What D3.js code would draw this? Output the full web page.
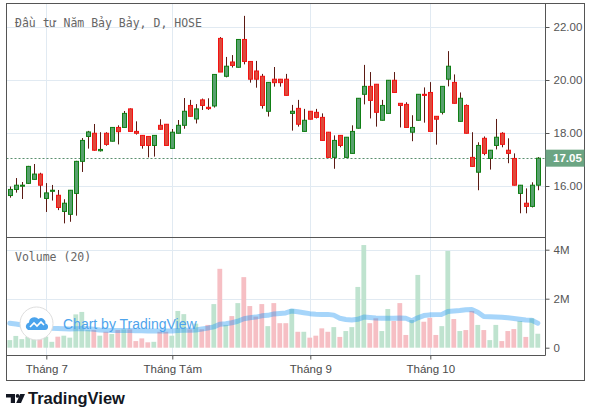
<!DOCTYPE html>
<html><head><meta charset="utf-8">
<script src="https://cdn.jsdelivr.net/npm/d3@7"></script>
<style>html,body{margin:0;padding:0;background:#fff;}svg{display:block;}</style>
</head><body>
<svg id="chart" width="590" height="415"></svg>
<script>
// ---- data ----
const dates = ["2022-06-23","2022-06-24","2022-06-27","2022-06-28","2022-06-29","2022-06-30",
"2022-07-01","2022-07-04","2022-07-05","2022-07-06","2022-07-07","2022-07-08","2022-07-11","2022-07-12","2022-07-13","2022-07-14","2022-07-15","2022-07-18","2022-07-19","2022-07-20","2022-07-21","2022-07-22","2022-07-25","2022-07-26","2022-07-27","2022-07-28","2022-07-29",
"2022-08-01","2022-08-02","2022-08-03","2022-08-04","2022-08-05","2022-08-08","2022-08-09","2022-08-10","2022-08-11","2022-08-12","2022-08-15","2022-08-16","2022-08-17","2022-08-18","2022-08-19","2022-08-22","2022-08-23","2022-08-24","2022-08-25","2022-08-26","2022-08-29","2022-08-30","2022-08-31",
"2022-09-05","2022-09-06","2022-09-07","2022-09-08","2022-09-09","2022-09-12","2022-09-13","2022-09-14","2022-09-15","2022-09-16","2022-09-19","2022-09-20","2022-09-21","2022-09-22","2022-09-23","2022-09-26","2022-09-27","2022-09-28","2022-09-29","2022-09-30",
"2022-10-03","2022-10-04","2022-10-05","2022-10-06","2022-10-07","2022-10-10","2022-10-11","2022-10-12","2022-10-13","2022-10-14","2022-10-17","2022-10-18","2022-10-19","2022-10-20","2022-10-21","2022-10-24","2022-10-25","2022-10-26","2022-10-27"];

const open  = [15.64,15.87,16.01,16.10,16.25,16.45,15.53,15.80,15.65,15.04,14.93,15.72,16.93,17.87,17.99,17.33,17.99,17.69,18.21,18.21,18.91,18.06,17.91,17.87,17.53,18.29,18.33,17.42,17.99,18.29,19.04,18.53,19.25,18.97,19.02,21.57,20.14,20.68,20.48,21.53,20.70,20.34,20.14,18.82,20.03,20.03,20.03,18.74,18.93,18.06,18.82,18.78,18.59,18.03,17.08,17.91,17.08,17.23,18.18,19.46,19.76,19.84,18.48,18.74,19.99,19.12,19.08,18.03,18.48,19.46,19.53,18.63,18.78,20.03,19.91,18.44,19.04,17.08,16.52,17.80,17.04,17.53,17.99,17.35,17.04,15.72,15.35,15.23,16.03];
const high  = [15.98,16.30,16.15,16.76,16.83,16.50,16.11,16.04,15.85,15.50,15.85,16.95,17.81,18.08,18.34,18.03,18.03,18.22,18.29,18.83,18.93,18.44,17.92,17.88,17.92,18.52,18.34,18.15,18.49,19.32,19.25,19.09,19.30,19.31,20.22,21.62,20.87,20.94,21.54,22.42,20.71,20.72,20.23,19.92,20.49,20.04,20.23,19.06,19.25,18.91,18.83,18.91,18.74,18.04,17.91,17.92,17.85,18.29,19.32,20.57,20.30,19.85,19.25,20.00,20.30,19.13,19.16,18.67,19.47,19.72,19.92,18.64,19.77,21.09,20.21,19.53,19.08,18.03,17.65,17.87,17.36,18.53,18.03,17.80,17.23,16.04,15.91,16.14,17.09];
const low   = [15.56,15.75,15.51,16.08,16.24,15.56,15.02,15.45,15.09,14.59,14.65,14.88,16.53,17.41,17.33,17.30,17.52,17.68,17.57,18.20,18.05,17.94,17.41,17.08,17.11,18.13,17.52,17.41,17.98,18.16,18.62,18.36,18.87,18.87,18.96,20.30,20.10,20.47,20.47,20.59,19.90,19.71,18.92,18.62,19.75,19.75,19.41,18.09,18.24,18.05,18.51,18.55,17.71,17.07,16.65,17.46,17.07,17.22,18.17,19.08,18.55,18.24,18.47,18.73,19.52,18.21,18.20,17.69,18.47,18.39,18.05,17.56,18.70,19.76,19.11,18.43,17.98,16.73,15.84,17.16,16.62,17.38,17.46,16.86,16.02,14.97,14.97,15.19,15.84];
const close = [15.87,16.03,16.03,16.74,16.45,16.03,15.74,15.84,15.19,15.35,15.84,16.93,17.72,18.04,17.35,17.38,17.57,18.21,18.05,18.74,18.06,17.99,17.53,17.53,17.91,18.14,17.53,18.03,18.29,18.82,18.63,18.91,19.04,18.92,20.21,20.30,20.52,20.55,21.53,20.70,20.03,20.03,19.04,19.91,19.90,19.90,19.42,18.82,18.33,18.48,18.52,18.59,17.72,17.08,17.72,17.53,17.84,18.06,19.31,19.76,19.23,18.78,19.04,19.99,19.53,19.04,18.21,18.21,19.46,19.42,18.06,18.52,19.76,20.52,19.12,19.31,17.99,16.74,17.53,17.23,17.35,17.84,17.57,17.23,16.03,16.03,15.23,16.03,17.05];
// volume in millions
const volume = [0.31,0.48,0.35,0.45,0.40,0.38,0.45,0.24,0.45,0.49,0.41,1.36,1.46,0.72,0.72,0.49,0.65,0.56,0.72,0.75,0.75,0.27,0.38,0.22,0.24,0.65,0.65,0.49,1.50,1.37,0.75,0.98,0.75,0.93,1.78,3.22,0.93,1.29,1.82,2.88,1.70,1.27,1.78,0.88,1.82,1.00,1.00,1.58,0.65,0.65,0.41,0.49,0.79,0.65,0.84,0.44,0.68,0.84,2.48,4.19,1.00,1.20,0.68,1.58,1.09,1.82,0.52,1.13,2.97,1.06,1.22,0.52,0.88,3.95,1.17,0.68,0.72,1.50,0.93,0.72,0.31,0.93,0.27,0.68,0.76,1.09,0.44,1.20,0.57];
// 20-period volume moving average (millions)
const volumeMA = [1.00,0.97,0.93,0.90,0.87,0.84,0.81,0.79,0.78,0.77,0.76,0.77,0.78,0.77,0.75,0.72,0.71,0.70,0.70,0.70,0.70,0.69,0.69,0.68,0.68,0.68,0.68,0.68,0.70,0.71,0.71,0.72,0.76,0.80,0.85,0.96,0.98,1.02,1.08,1.18,1.22,1.25,1.30,1.32,1.38,1.40,1.42,1.50,1.47,1.43,1.39,1.37,1.36,1.36,1.33,1.20,1.15,1.13,1.16,1.25,1.23,1.21,1.20,1.20,1.20,1.21,1.20,1.10,1.22,1.31,1.34,1.35,1.36,1.48,1.50,1.52,1.55,1.56,1.45,1.27,1.26,1.25,1.24,1.22,1.19,1.16,1.13,1.12,1.00];

const priceTicks = [16,18,20,22];
const volumeTicks = [0,2,4];
const monthTickDates = ["2022-07-01","2022-08-01","2022-09-05","2022-10-03"];
const monthTickLabels = ["Tháng 7","Tháng Tám","Tháng 9","Tháng 10"];
const lastPrice = 17.05;
const title = "Đầu tư Năm Bảy Bảy, D, HOSE";
const volTitle = "Volume (20)";

// ---- layout ----
const L = 6.5, R = 545.5, FR = 584.5, T = 3.5, PB = 237.5, VB = 355.5, FB = 380.5;
const gridColor = "#e1eaf2", frameColor = "#555", textColor = "#555";
const svg = d3.select("#chart");

const x = d3.scalePoint().domain(dates).range([9.8, 9.8 + 6*(dates.length-1)]);
const y = d3.scaleLinear().domain([16,22]).range([186,27]);
const yv = d3.scaleLinear().domain([0,4]).range([347.7,249.7]);

const idx = d3.range(dates.length);
const up = i => close[i] >= open[i];

// gridlines
const g = svg.append("g");
g.selectAll(".hg").data(priceTicks).join("line")
  .attr("x1",L).attr("x2",R).attr("y1",d=>Math.round(y(d))+0.5).attr("y2",d=>Math.round(y(d))+0.5)
  .attr("stroke",gridColor);
g.selectAll(".hv").data(volumeTicks.filter(d=>d>0)).join("line")
  .attr("x1",L).attr("x2",R).attr("y1",d=>Math.round(yv(d))+0.5).attr("y2",d=>Math.round(yv(d))+0.5)
  .attr("stroke",gridColor);
g.selectAll(".vg").data(monthTickDates).join("line")
  .attr("x1",d=>Math.round(x(d))+0.5).attr("x2",d=>Math.round(x(d))+0.5)
  .attr("y1",T).attr("y2",VB).attr("stroke",gridColor);

// titles
svg.append("text").attr("x",15).attr("y",27).text(title)
  .attr("font-family","DejaVu Sans Mono").attr("font-size","11.5px").attr("fill","#666");
svg.append("text").attr("x",15).attr("y",261).text(volTitle)
  .attr("font-family","DejaVu Sans Mono").attr("font-size","11.5px").attr("fill","#666");

// last price dotted line
svg.append("line").attr("x1",L).attr("x2",R)
  .attr("y1",Math.round(y(lastPrice))+0.5).attr("y2",Math.round(y(lastPrice))+0.5)
  .attr("stroke","#5a8f6e").attr("stroke-dasharray","2,2");

// volume bars
svg.append("g").selectAll("rect").data(idx).join("rect")
  .attr("x",i=>x(dates[i])-2.4).attr("width",4.8)
  .attr("y",i=>yv(volume[i])).attr("height",i=>yv(0)-yv(volume[i]))
  .attr("fill",i=>up(i)?"#bfe3cf":"#f6bfc4");

// volume MA
svg.append("path").datum(idx)
  .attr("d",d3.line().x(i=>x(dates[i])).y(i=>yv(volumeMA[i])))
  .attr("fill","none").attr("stroke","rgba(33,150,243,0.4)").attr("stroke-width",5)
  .attr("stroke-linejoin","round").attr("stroke-linecap","round");

// candles
const cg = svg.append("g");
cg.selectAll("line").data(idx).join("line")
  .attr("x1",i=>Math.round(x(dates[i]))+0.5).attr("x2",i=>Math.round(x(dates[i]))+0.5)
  .attr("y1",i=>y(high[i])).attr("y2",i=>y(low[i]))
  .attr("stroke","#5b1a13").attr("stroke-width",1);
cg.selectAll("rect").data(idx).join("rect")
  .attr("x",i=>Math.round(x(dates[i]))-1.5).attr("width",4)
  .attr("y",i=>y(Math.max(open[i],close[i])))
  .attr("height",i=>Math.max(1, y(Math.min(open[i],close[i]))-y(Math.max(open[i],close[i]))))
  .attr("fill",i=>up(i)?"#58a06e":"#dc4b3c")
  .attr("stroke",i=>up(i)?"#0f7f14":"#f41212").attr("stroke-width",1);

// watermark
const wm = svg.append("g");
wm.append("circle").attr("cx",36.5).attr("cy",323.5).attr("r",16.5)
  .attr("fill","#fff").attr("stroke","#dedede");
wm.append("path")
  .attr("d","M28,330 a4,4 0 0 1 1,-7.5 a5.5,5.5 0 0 1 9.5,-3.5 a4.5,4.5 0 0 1 7,4.5 a3.3,3.3 0 0 1 -0.5,6.5 Z")
  .attr("fill","#4aa3ec");
wm.append("path").attr("d","M30,327 L34,323 L37,326 L41,322 L44,325")
  .attr("fill","none").attr("stroke","#fff").attr("stroke-width",1.6);
wm.append("text").attr("x",63).attr("y",328.5).text("Chart by TradingView")
  .attr("font-family","Liberation Sans, Arial").attr("font-size","14px").attr("fill","#4ea4ec");

// frame
const fr = svg.append("g").attr("stroke",frameColor).attr("fill","none");
fr.append("rect").attr("x",L).attr("y",T).attr("width",FR-L).attr("height",FB-T);
fr.append("line").attr("x1",L).attr("x2",R).attr("y1",PB).attr("y2",PB);
fr.append("line").attr("x1",L).attr("x2",R).attr("y1",VB).attr("y2",VB);
fr.append("line").attr("x1",R).attr("x2",R).attr("y1",T).attr("y2",VB);

// axes
const axFont = g => g.selectAll("text").attr("font-family","Liberation Sans, Arial").attr("font-size","11.5px").attr("fill",textColor);
const pa = svg.append("g").attr("transform",`translate(${R},0)`)
  .call(d3.axisRight(y).tickValues(priceTicks).tickFormat(d3.format(".2f")).tickSize(4).tickPadding(4));
pa.select(".domain").remove(); pa.selectAll("line").attr("stroke",frameColor); axFont(pa);
const va = svg.append("g").attr("transform",`translate(${R},0)`)
  .call(d3.axisRight(yv).tickValues(volumeTicks).tickFormat(d=>d===0?"0":d+"M").tickSize(4).tickPadding(4));
va.select(".domain").remove(); va.selectAll("line").attr("stroke",frameColor); axFont(va);
const ta = svg.append("g").attr("transform",`translate(0.5,${VB})`)
  .call(d3.axisBottom(x).tickValues(monthTickDates).tickFormat((d,i)=>monthTickLabels[i]).tickSize(4).tickPadding(5));
ta.select(".domain").remove(); ta.selectAll("line").attr("stroke",frameColor); axFont(ta);
ta.selectAll("text").attr("font-size","11.5px").attr("fill","#4a4a4a");

// last price label
const ly = y(lastPrice);
svg.append("rect").attr("x",R).attr("y",ly-8.5).attr("width",FR-R).attr("height",17).attr("fill","#6ba583");
svg.append("text").attr("x",553).attr("y",ly+4).text(d3.format(".2f")(lastPrice))
  .attr("font-family","Liberation Sans, Arial").attr("font-size","11.5px").attr("font-weight","bold").attr("fill","#fff");

// TradingView logo
const lg = svg.append("g").attr("fill","#131722");
lg.append("path").attr("d","M6,394 H15 V403 H10.8 V397.6 H6 Z");
lg.append("circle").attr("cx",17.6).attr("cy",395.9).attr("r",1.9);
lg.append("path").attr("d","M20.2,394 H25 L21,403 H16.2 Z");
svg.append("text").attr("x",28).attr("y",403.5).text("TradingView")
  .attr("font-family","Liberation Sans, Arial").attr("font-size","16.5px").attr("font-weight","bold").attr("fill","#131722");
</script>
</body></html>
